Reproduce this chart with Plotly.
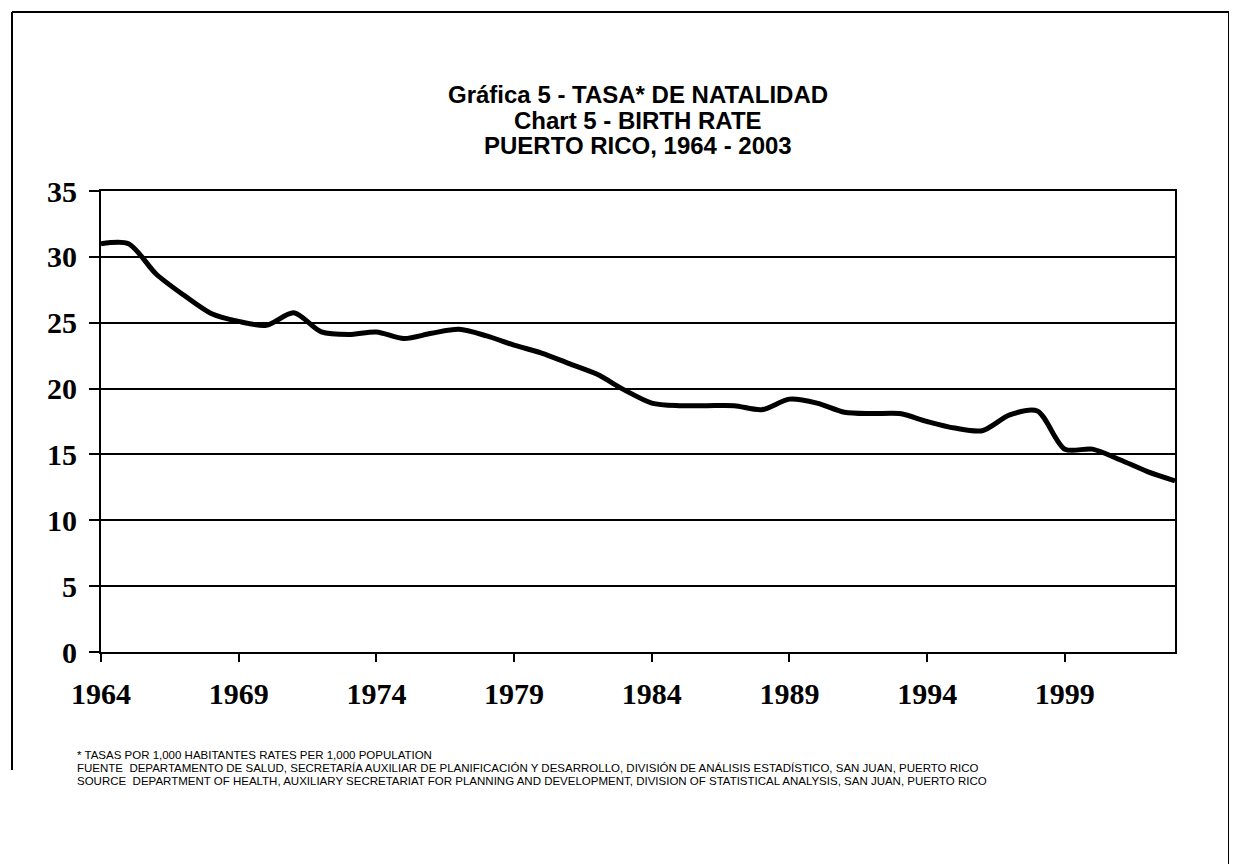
import plotly.graph_objects as go

years = list(range(1964, 2004))
birth_rate = [31.0, 31.0, 28.7, 27.1, 25.7, 25.1, 24.8, 25.75, 24.3, 24.1,
              24.3, 23.8, 24.2, 24.5, 24.0, 23.3, 22.7, 21.9, 21.1, 19.9,
              18.9, 18.7, 18.7, 18.7, 18.4, 19.2, 18.9, 18.2, 18.1, 18.1,
              17.5, 17.0, 16.8, 18.0, 18.3, 15.4, 15.4, 14.6, 13.7, 13.0]
x_ticks = [1964, 1969, 1974, 1979, 1984, 1989, 1994, 1999]
y_ticks = [0, 5, 10, 15, 20, 25, 30, 35]

title_lines = ["Gráfica 5 - TASA* DE NATALIDAD",
               "Chart 5 - BIRTH RATE",
               "PUERTO RICO, 1964 - 2003"]
foot_lines = ["* TASAS POR 1,000 HABITANTES RATES PER 1,000 POPULATION",
              "FUENTE  DEPARTAMENTO DE SALUD, SECRETARÍA AUXILIAR DE PLANIFICACIÓN Y DESARROLLO, DIVISIÓN DE ANÁLISIS ESTADÍSTICO, SAN JUAN, PUERTO RICO",
              "SOURCE  DEPARTMENT OF HEALTH, AUXILIARY SECRETARIAT FOR PLANNING AND DEVELOPMENT, DIVISION OF STATISTICAL ANALYSIS, SAN JUAN, PUERTO RICO"]

W, H = 1237, 864
OFF = 8  # page body margin offset
L, T = 101 - OFF, 191 - OFF
pw, ph = 1074, 461
R, B = W - L - pw, H - T - ph


def px(x):
    return (x - OFF - L) / pw


def py(y):
    return (T + ph - (y - OFF)) / ph


fig = go.Figure()
fig.add_trace(go.Scatter(
    x=years, y=birth_rate, mode="lines",
    line=dict(color="black", width=5, shape="spline", smoothing=0.8),
    hoverinfo="x+y", showlegend=False))

serif = "Liberation Serif, Times New Roman, serif"
sans = "Liberation Sans, Arial, sans-serif"

annotations = []
for i, t in enumerate(title_lines):
    annotations.append(dict(text="<b>" + t + "</b>", xref="paper", yref="paper",
                            x=0.5, y=py(95 + 25 * i), xanchor="center", yanchor="middle",
                            showarrow=False, font=dict(family=sans, size=24, color="black")))
for i, t in enumerate(foot_lines):
    annotations.append(dict(text=t, xref="paper", yref="paper",
                            x=px(75), y=py(755 + 13 * i), xanchor="left", yanchor="middle",
                            showarrow=False, font=dict(family=sans, size=11.5, color="black")))

shapes = [
    dict(type="line", xref="paper", yref="paper", x0=px(12), x1=px(1245), y0=py(12), y1=py(12),
         line=dict(color="black", width=2)),
    dict(type="line", xref="paper", yref="paper", x0=px(12), x1=px(12), y0=py(12), y1=py(770),
         line=dict(color="black", width=2)),
    dict(type="line", xref="paper", yref="paper", x0=px(1229), x1=px(1229), y0=py(12), y1=py(872),
         line=dict(color="black", width=2)),
]

fig.update_layout(
    width=W, height=H,
    margin=dict(l=L, r=R, t=T, b=B, autoexpand=False),
    paper_bgcolor="white", plot_bgcolor="white",
    annotations=annotations, shapes=shapes,
    xaxis=dict(range=[1964, 2003], tickvals=x_ticks, ticktext=[str(v) for v in x_ticks],
               showgrid=False, zeroline=False, showline=True, linecolor="black", linewidth=2,
               mirror=True, ticks="outside", ticklen=8, tickwidth=2, tickcolor="black",
               ticklabelstandoff=6,
               tickfont=dict(family=serif, size=30, color="black", weight="bold")),
    yaxis=dict(range=[0, 35], tickvals=y_ticks, showgrid=True, gridcolor="black", gridwidth=1.5,
               zeroline=False, showline=True, linecolor="black", linewidth=2, mirror=True,
               ticks="outside", ticklen=10, tickwidth=1.5, tickcolor="black",
               ticklabelstandoff=6,
               tickfont=dict(family=serif, size=30, color="black", weight="bold")),
)

fig.write_html("out.html")
